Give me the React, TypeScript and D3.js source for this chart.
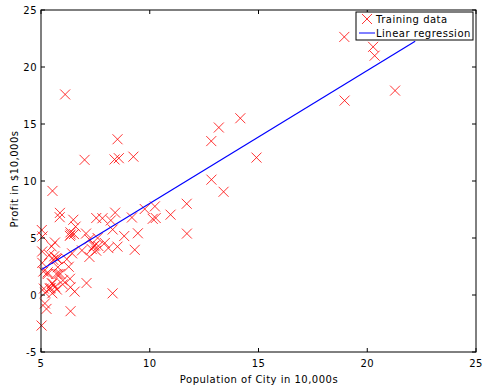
import { useEffect, useRef } from 'react';
import * as d3 from 'd3';

// population of city (10,000s)
const population = [
  6.1101, 5.5277, 8.5186, 7.0032, 5.8598, 8.3829, 7.4764, 8.5781, 6.4862, 5.0546,
  5.7107, 14.164, 5.734, 8.4084, 5.6407, 5.3794, 6.3654, 5.1301, 6.4296, 7.0708,
  6.1891, 20.27, 5.4901, 6.3261, 5.5649, 18.945, 12.828, 10.957, 13.176, 22.203,
  5.2524, 6.5894, 9.2482, 5.8918, 8.2111, 7.9334, 8.0959, 5.6063, 12.836, 6.3534,
  5.4069, 6.8825, 11.708, 5.7737, 7.8247, 7.0931, 5.0702, 5.8014, 11.7, 5.5416,
  7.5402, 5.3077, 7.4239, 7.6031, 6.3328, 6.3589, 6.2742, 5.6397, 9.3102, 9.4536,
  8.8254, 5.1793, 21.279, 14.908, 18.959, 7.2182, 8.2951, 10.236, 5.4994, 20.341,
  10.136, 7.3345, 6.0062, 7.2259, 5.0269, 6.5479, 7.5386, 5.0365, 10.274, 5.1077,
  5.7292, 5.1884, 6.3557, 9.7687, 6.5159, 8.5172, 9.1802, 6.002, 5.5204, 5.0594,
  5.7077, 7.6366, 5.8707, 5.3054, 8.2934, 13.394, 5.4369,
];

// profit ($10,000s)
const profit = [
  17.592, 9.1302, 13.662, 11.854, 6.8233, 11.886, 4.3483, 12, 6.5987, 3.8166,
  3.2522, 15.505, 3.1551, 7.2258, 0.71618, 3.5129, 5.3048, 0.56077, 3.6518, 5.3893,
  3.1386, 21.767, 4.263, 5.1875, 3.0825, 22.638, 13.501, 7.0467, 14.692, 24.147,
  -1.22, 5.9966, 12.134, 1.8495, 6.5426, 4.5623, 4.1164, 3.3928, 10.117, 5.4974,
  0.55657, 3.9115, 5.3854, 2.4406, 6.7318, 1.0463, 5.1337, 1.844, 8.0043, 1.0179,
  6.7504, 1.8396, 4.2885, 4.9981, 1.4233, -1.4211, 2.4756, 4.6042, 3.9624, 5.4141,
  5.1694, -0.74279, 17.929, 12.054, 17.054, 4.8852, 5.7442, 7.7754, 1.0173, 20.992,
  6.6799, 4.0259, 1.2784, 3.3411, -2.6807, 0.29678, 3.8845, 5.7014, 6.7526, 2.0576,
  0.47953, 0.20421, 0.67861, 7.5435, 5.3436, 4.2415, 6.7981, 0.92695, 0.152, 2.8214,
  1.8451, 4.2959, 7.2029, 1.9869, 0.14454, 9.0551, 0.61705,
];

// fitted theta (intercept, slope)
const theta = [-3.6303, 1.1664];

const xTicks = [5, 10, 15, 20, 25];
const yTicks = [-5, 0, 5, 10, 15, 20, 25];

const W = 487;
const H = 390;
const plot = { left: 41, right: 476, top: 10, bottom: 352 };
const FONT = '"DejaVu Sans", Verdana, sans-serif';

export default function App() {
  const svgRef = useRef<SVGSVGElement>(null);

  useEffect(() => {
    const svg = d3.select(svgRef.current);
    svg.selectAll('*').remove();

    const x = d3.scaleLinear().domain([5, 25]).range([plot.left, plot.right]);
    const y = d3.scaleLinear().domain([-5, 25]).range([plot.bottom, plot.top]);

    svg.append('rect').attr('width', W).attr('height', H).attr('fill', '#fff');

    // markers
    const s = 5;
    const pts = population.map((p, i) => [p, profit[i]]);
    svg.append('g')
      .selectAll('path')
      .data(pts)
      .join('path')
      .attr('d', d => {
        const cx = x(d[0]);
        const cy = y(d[1]);
        return `M${cx - s},${cy - s}L${cx + s},${cy + s}M${cx - s},${cy + s}L${cx + s},${cy - s}`;
      })
      .attr('stroke', '#ff0000')
      .attr('stroke-width', 0.8)
      .attr('fill', 'none');

    // regression line
    const xmin = d3.min(population)!;
    const xmax = d3.max(population)!;
    const line = d3.line<number>()
      .x(d => x(d))
      .y(d => y(theta[0] + theta[1] * d));
    svg.append('path')
      .attr('d', line([xmin, xmax]))
      .attr('stroke', '#0000ff')
      .attr('stroke-width', 1.2)
      .attr('fill', 'none');

    // frame
    svg.append('rect')
      .attr('x', plot.left)
      .attr('y', plot.top)
      .attr('width', plot.right - plot.left)
      .attr('height', plot.bottom - plot.top)
      .attr('fill', 'none')
      .attr('stroke', '#000')
      .attr('stroke-width', 1);

    const tl = 4;
    const g = svg.append('g').attr('stroke', '#000').attr('stroke-width', 1);
    xTicks.forEach(t => {
      g.append('line').attr('x1', x(t)).attr('x2', x(t)).attr('y1', plot.bottom).attr('y2', plot.bottom - tl);
      g.append('line').attr('x1', x(t)).attr('x2', x(t)).attr('y1', plot.top).attr('y2', plot.top + tl);
    });
    yTicks.forEach(t => {
      g.append('line').attr('x1', plot.left).attr('x2', plot.left + tl).attr('y1', y(t)).attr('y2', y(t));
      g.append('line').attr('x1', plot.right).attr('x2', plot.right - tl).attr('y1', y(t)).attr('y2', y(t));
    });

    svg.append('g')
      .selectAll('text')
      .data(xTicks)
      .join('text')
      .attr('x', d => x(d))
      .attr('y', plot.bottom + 15)
      .attr('text-anchor', 'middle')
      .attr('font-family', FONT)
      .attr('font-size', 10)
      .attr('letter-spacing', 0.5)
      .attr('fill', '#000')
      .text(d => d);

    svg.append('g')
      .selectAll('text')
      .data(yTicks)
      .join('text')
      .attr('x', plot.left - 4)
      .attr('y', d => y(d) + 4)
      .attr('text-anchor', 'end')
      .attr('font-family', FONT)
      .attr('font-size', 10)
      .attr('letter-spacing', 0.5)
      .attr('fill', '#000')
      .text(d => d);

    svg.append('text')
      .attr('x', 259)
      .attr('y', 383)
      .attr('text-anchor', 'middle')
      .attr('font-family', FONT)
      .attr('font-size', 10)
      .attr('letter-spacing', 0.5)
      .text('Population of City in 10,000s');

    svg.append('text')
      .attr('transform', `translate(18,179) rotate(-90)`)
      .attr('text-anchor', 'middle')
      .attr('font-family', FONT)
      .attr('font-size', 10)
      .attr('letter-spacing', 0.5)
      .text('Profit in $10,000s');

    // legend
    const lg = svg.append('g');
    lg.append('rect')
      .attr('x', 356).attr('y', 12).attr('width', 117).attr('height', 28)
      .attr('fill', '#fff').attr('stroke', '#000').attr('stroke-width', 1);
    const mx = 367;
    const my = 19;
    lg.append('path')
      .attr('d', `M${mx - s},${my - s}L${mx + s},${my + s}M${mx - s},${my + s}L${mx + s},${my - s}`)
      .attr('stroke', '#ff0000').attr('stroke-width', 0.8).attr('fill', 'none');
    lg.append('line')
      .attr('x1', 359).attr('x2', 375).attr('y1', 33).attr('y2', 33)
      .attr('stroke', '#0000ff').attr('stroke-width', 1);
    lg.append('text').attr('x', 376).attr('y', 23).attr('font-family', FONT).attr('font-size', 10).attr('letter-spacing', 0.5).text('Training data');
    lg.append('text').attr('x', 376).attr('y', 37).attr('font-family', FONT).attr('font-size', 10).attr('letter-spacing', 0.5).text('Linear regression');
  }, []);

  return (
    <svg
      ref={svgRef}
      width={W}
      height={H}
      style={{ position: 'absolute', left: 0, top: 0, display: 'block' }}
    />
  );
}
